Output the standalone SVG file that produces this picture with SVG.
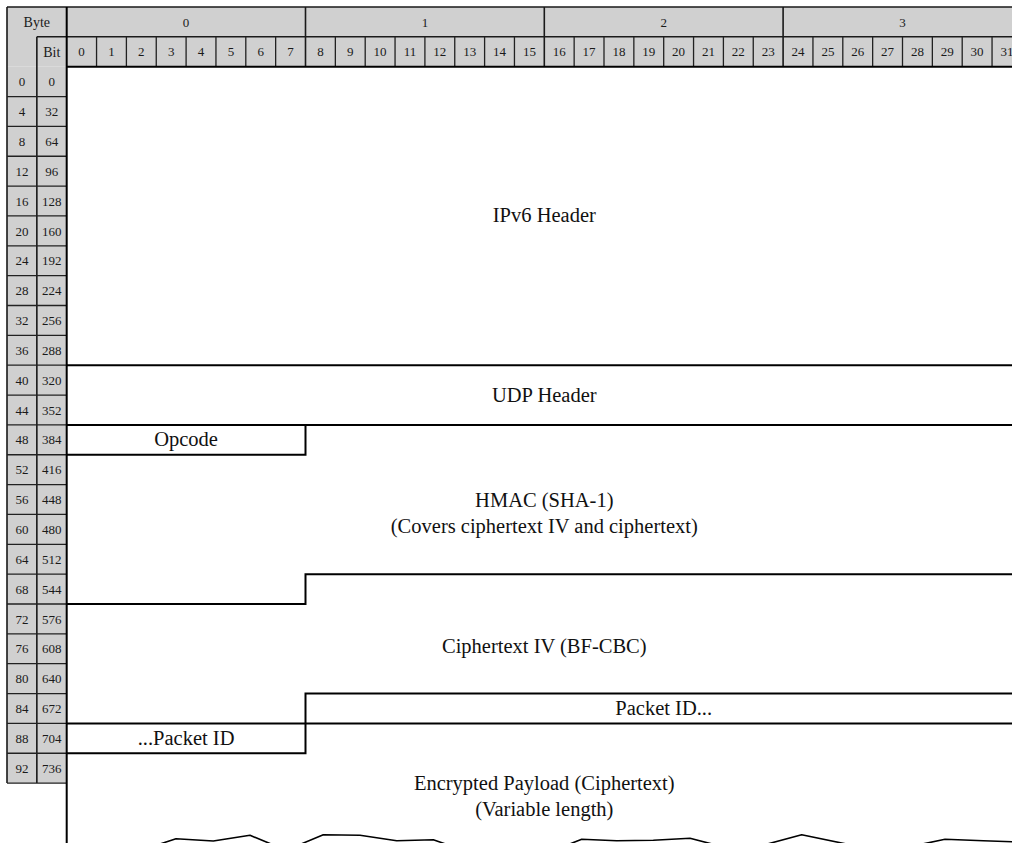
<svg xmlns="http://www.w3.org/2000/svg" width="1012" height="843" viewBox="0 0 1012 843">
<style>
.hdr{fill:#d0d0d0;stroke:none}
.g{stroke:#222;stroke-width:1.3;fill:none}
.gb{stroke:#1a1a1a;stroke-width:1.6;fill:none}
.t{stroke:#000;stroke-width:2;fill:none}
.s{font-family:"Liberation Serif","Times New Roman",serif;font-size:13px;fill:#1a1a1a;text-anchor:middle}
.sh{font-family:"Liberation Serif","Times New Roman",serif;font-size:14px;fill:#1a1a1a;text-anchor:middle}
.L{font-family:"Liberation Serif","Times New Roman",serif;font-size:20.5px;fill:#111;text-anchor:middle}
.w{stroke:#000;stroke-width:1.6;fill:none;stroke-linejoin:round}
</style>
<rect width="1012" height="843" fill="#fff"/>
<g id="header">
<rect class="hdr" x="7" y="7" width="1020" height="59.7"/>
<rect class="hdr" x="7" y="66.7" width="59.7" height="716.4"/>
<path class="gb" d="M7,7 H1030 M7,7 V783.1 M36.85,36.8 H1030 M36.85,36.8 V783.1 M305.5,7 V66.7 M544.3,7 V66.7 M783.1,7 V66.7"/>
<path class="g" d="M96.55,36.8 V66.7 M126.4,36.8 V66.7 M156.25,36.8 V66.7 M186.1,36.8 V66.7 M215.95,36.8 V66.7 M245.8,36.8 V66.7 M275.65,36.8 V66.7 M335.35,36.8 V66.7 M365.2,36.8 V66.7 M395.05,36.8 V66.7 M424.9,36.8 V66.7 M454.75,36.8 V66.7 M484.6,36.8 V66.7 M514.45,36.8 V66.7 M574.15,36.8 V66.7 M604,36.8 V66.7 M633.85,36.8 V66.7 M663.7,36.8 V66.7 M693.55,36.8 V66.7 M723.4,36.8 V66.7 M753.25,36.8 V66.7 M812.95,36.8 V66.7 M842.8,36.8 V66.7 M872.65,36.8 V66.7 M902.5,36.8 V66.7 M932.35,36.8 V66.7 M962.2,36.8 V66.7 M992.05,36.8 V66.7"/>
<path class="g" d="M7,96.55 H66.7 M7,126.4 H66.7 M7,156.25 H66.7 M7,186.1 H66.7 M7,215.95 H66.7 M7,245.8 H66.7 M7,275.65 H66.7 M7,305.5 H66.7 M7,335.35 H66.7 M7,365.2 H66.7 M7,395.05 H66.7 M7,424.9 H66.7 M7,454.75 H66.7 M7,484.6 H66.7 M7,514.45 H66.7 M7,544.3 H66.7 M7,574.15 H66.7 M7,604 H66.7 M7,633.85 H66.7 M7,663.7 H66.7 M7,693.55 H66.7 M7,723.4 H66.7 M7,753.25 H66.7 M7,783.1 H66.7"/>
<text class="sh" x="36.85" y="26.5">Byte</text>
<text class="sh" x="51.8" y="56.5">Bit</text>
<text class="s" x="186.1" y="26.5">0</text>
<text class="s" x="424.9" y="26.5">1</text>
<text class="s" x="663.7" y="26.5">2</text>
<text class="s" x="902.5" y="26.5">3</text>
<g class="s">
<text x="81.6" y="56.3">0</text><text x="111.5" y="56.3">1</text><text x="141.3" y="56.3">2</text><text x="171.2" y="56.3">3</text><text x="201" y="56.3">4</text><text x="230.9" y="56.3">5</text><text x="260.7" y="56.3">6</text><text x="290.6" y="56.3">7</text>
<text x="320.4" y="56.3">8</text><text x="350.3" y="56.3">9</text><text x="380.1" y="56.3">10</text><text x="410" y="56.3">11</text><text x="439.8" y="56.3">12</text><text x="469.7" y="56.3">13</text><text x="499.5" y="56.3">14</text><text x="529.4" y="56.3">15</text>
<text x="559.2" y="56.3">16</text><text x="589.1" y="56.3">17</text><text x="618.9" y="56.3">18</text><text x="648.8" y="56.3">19</text><text x="678.6" y="56.3">20</text><text x="708.5" y="56.3">21</text><text x="738.3" y="56.3">22</text><text x="768.2" y="56.3">23</text>
<text x="798" y="56.3">24</text><text x="827.9" y="56.3">25</text><text x="857.7" y="56.3">26</text><text x="887.6" y="56.3">27</text><text x="917.4" y="56.3">28</text><text x="947.3" y="56.3">29</text><text x="977.1" y="56.3">30</text><text x="1007" y="56.3">31</text>
</g>
<g class="s">
<text x="22" y="86.2">0</text><text x="51.8" y="86.2">0</text>
<text x="22" y="116.1">4</text><text x="51.8" y="116.1">32</text>
<text x="22" y="145.9">8</text><text x="51.8" y="145.9">64</text>
<text x="22" y="175.8">12</text><text x="51.8" y="175.8">96</text>
<text x="22" y="205.6">16</text><text x="51.8" y="205.6">128</text>
<text x="22" y="235.5">20</text><text x="51.8" y="235.5">160</text>
<text x="22" y="265.3">24</text><text x="51.8" y="265.3">192</text>
<text x="22" y="295.2">28</text><text x="51.8" y="295.2">224</text>
<text x="22" y="325">32</text><text x="51.8" y="325">256</text>
<text x="22" y="354.9">36</text><text x="51.8" y="354.9">288</text>
<text x="22" y="384.7">40</text><text x="51.8" y="384.7">320</text>
<text x="22" y="414.6">44</text><text x="51.8" y="414.6">352</text>
<text x="22" y="444.4">48</text><text x="51.8" y="444.4">384</text>
<text x="22" y="474.3">52</text><text x="51.8" y="474.3">416</text>
<text x="22" y="504.1">56</text><text x="51.8" y="504.1">448</text>
<text x="22" y="534">60</text><text x="51.8" y="534">480</text>
<text x="22" y="563.8">64</text><text x="51.8" y="563.8">512</text>
<text x="22" y="593.7">68</text><text x="51.8" y="593.7">544</text>
<text x="22" y="623.5">72</text><text x="51.8" y="623.5">576</text>
<text x="22" y="653.4">76</text><text x="51.8" y="653.4">608</text>
<text x="22" y="683.2">80</text><text x="51.8" y="683.2">640</text>
<text x="22" y="713.1">84</text><text x="51.8" y="713.1">672</text>
<text x="22" y="742.9">88</text><text x="51.8" y="742.9">704</text>
<text x="22" y="772.8">92</text><text x="51.8" y="772.8">736</text>
</g>
<path class="t" d="M66.7,7 V843 M66.7,66.7 H1030"/>
</g>
<g id="connectors">
<path class="t" d="M66.7,365.2 H1030"/>
<path class="t" d="M66.7,424.9 H1030"/>
<path class="t" d="M66.7,454.75 H305.5 V424.9"/>
<path class="t" d="M66.7,604 H305.5 V574.15 H1030"/>
<path class="t" d="M305.5,723.4 V693.55 H1030"/>
<path class="t" d="M66.7,723.4 H1030"/>
<path class="t" d="M66.7,753.25 H305.5 V723.4"/>
</g>
<g id="ipv6"><text class="L" x="544.3" y="222">IPv6 Header</text></g>
<g id="udp"><text class="L" x="544.3" y="402">UDP Header</text></g>
<g id="opcode"><text class="L" x="186.1" y="446">Opcode</text></g>
<g id="hmac"><text class="L" x="544.3" y="506.5">HMAC (SHA-1)</text><text class="L" x="544.3" y="533">(Covers ciphertext IV and ciphertext)</text></g>
<g id="iv"><text class="L" x="544.3" y="653">Ciphertext IV (BF-CBC)</text></g>
<g id="packetid1"><text class="L" x="663.7" y="715">Packet ID...</text></g>
<g id="packetid2"><text class="L" x="186.1" y="745">...Packet ID</text></g>
<g id="payload"><text class="L" x="544.3" y="790">Encrypted Payload (Ciphertext)</text><text class="L" x="544.3" y="816">(Variable length)</text></g>
<g id="tear">
<polyline class="w" points="151,847 176,838.7 213.3,841 250,835.3 276,846"/>
<polyline class="w" points="294,847 323.3,834.7 360,835.3 396.7,840.7 433.3,839.7 454,847"/>
<polyline class="w" points="562,847 581.7,839.3 616.7,840.7 653.3,840.3 690,838.3 720,846"/>
<polyline class="w" points="760,846 801.7,834.7 856,846"/>
<polyline class="w" points="908,847 945,839.3 983.3,840.7 1020,842"/>
</g>
</svg>
